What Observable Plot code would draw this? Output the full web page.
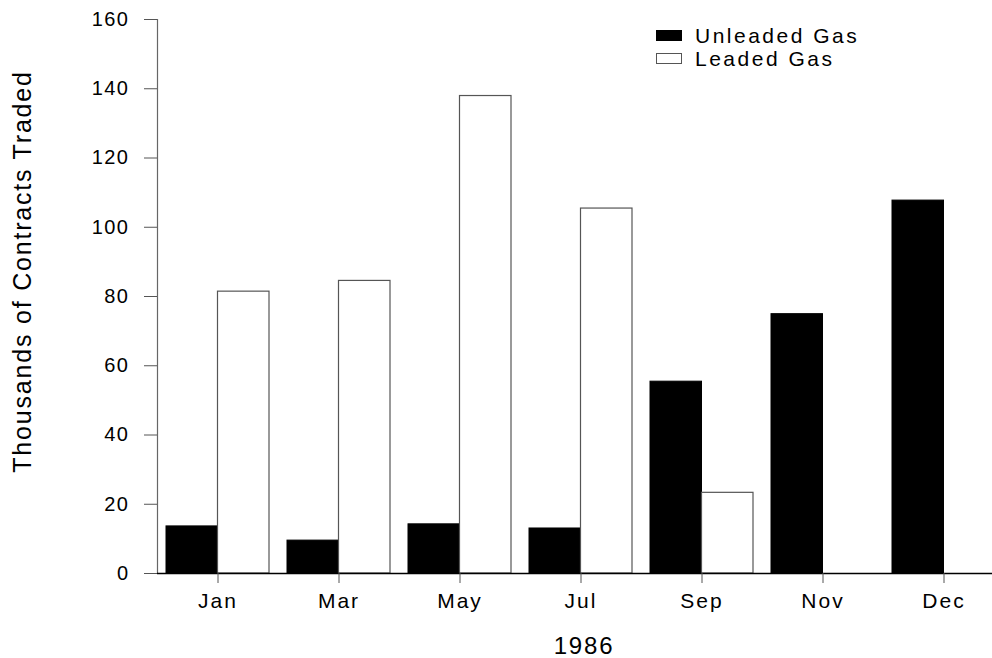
<!DOCTYPE html>
<html>
<head>
<meta charset="utf-8">
<script src="https://cdn.jsdelivr.net/npm/d3@7"></script>
<script src="https://cdn.jsdelivr.net/npm/@observablehq/plot@0.6"></script>
<style>
  html, body { margin: 0; padding: 0; background: #fff; }
  #wrap { position: relative; width: 992px; height: 658px; font-family: "Liberation Sans", Arial, sans-serif; }
  #wrap svg text { font-family: "Liberation Sans", Arial, sans-serif; }
  [aria-label="y-axis tick label"] text { letter-spacing: 1.5px; }
  [aria-label="x-axis tick label"] text { letter-spacing: 2px; }
  .title text { letter-spacing: 1.8px; }
  #legend { position: absolute; left: 656px; top: 24px; font-size: 21px; letter-spacing: 2.5px; color: #000; }
  #legend .row { display: flex; align-items: center; height: 23px; }
  #legend .sw { width: 26px; height: 11px; box-sizing: border-box; margin-right: 13px; }
</style>
</head>
<body>
<div id="wrap"></div>
<script>
const months = ["Jan", "Mar", "May", "Jul", "Sep", "Nov", "Dec"];
const unleaded = [13.6, 9.5, 14.2, 13.0, 55.4, 74.9, 107.7];
const leaded = [81.4, 84.5, 137.9, 105.4, 23.3, 0, 0];
const seriesNames = ["Unleaded Gas", "Leaded Gas"];
const yTicks = [0, 20, 40, 60, 80, 100, 120, 140, 160];
const yTitle = "Thousands of Contracts Traded";
const xTitle = "1986";

const rowsU = months.map((m, i) => ({month: m, value: unleaded[i]}));
const rowsL = months.map((m, i) => ({month: m, value: leaded[i]}));

const chart = Plot.plot({
  width: 992,
  height: 658,
  marginLeft: 157,
  marginRight: 0,
  marginTop: 19,
  marginBottom: 85,
  style: {fontFamily: "Liberation Sans, Arial, sans-serif", background: "#fff", overflow: "hidden"},
  x: {domain: months, range: [157, 1004], paddingInner: 0.149, paddingOuter: 0.0745},
  y: {domain: [0, 160]},
  marks: [
    Plot.barY(rowsU, {x: "month", y: "value", fill: "#000", stroke: "#000", strokeWidth: 1, insetRight: 51.5}),
    Plot.barY(rowsL, {x: "month", y: "value", fill: "#fff", stroke: "#555", strokeWidth: 1.2, insetLeft: 51.5}),
    Plot.frame({anchor: "left", stroke: "#666", strokeWidth: 1.2}),
    Plot.ruleY([0], {stroke: "#000", strokeWidth: 1.5}),
    Plot.axisY({ticks: yTicks, tickSize: 13, tickPadding: 15, fontSize: 20, stroke: "#555", label: null, color: "#000"}),
    Plot.axisX({tickSize: 10, tickPadding: 10, fontSize: 21, stroke: "#555", label: null, color: "#000"}),
    Plot.text([yTitle], {text: d => d, frameAnchor: "left", textAnchor: "middle", rotate: -90, fontSize: 25, dx: -135, dy: -25, fill: "#000", className: "title"}),
    Plot.text([xTitle], {text: d => d, frameAnchor: "bottom", lineAnchor: "bottom", fontSize: 24, dx: 9, dy: 80, fill: "#000", className: "title"})
  ]
});
document.getElementById("wrap").appendChild(chart);

const legend = document.createElement("div");
legend.id = "legend";
const swatchStyles = [
  {background: "#000", border: "1px solid #000"},
  {background: "#fff", border: "1.3px solid #555"}
];
seriesNames.forEach((name, i) => {
  const row = document.createElement("div");
  row.className = "row";
  const sw = document.createElement("div");
  sw.className = "sw";
  Object.assign(sw.style, swatchStyles[i]);
  const label = document.createElement("span");
  label.textContent = name;
  row.appendChild(sw);
  row.appendChild(label);
  legend.appendChild(row);
});
document.getElementById("wrap").appendChild(legend);
</script>
</body>
</html>
